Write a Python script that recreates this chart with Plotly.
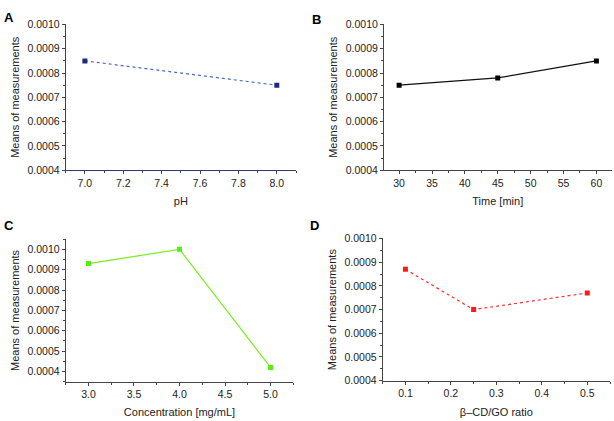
import plotly.graph_objects as go

ph = [7.0, 8.0]
ph_means = [0.00085, 0.00075]
time_min = [30, 45, 60]
time_means = [0.00075, 0.00078, 0.00085]
conc = [3.0, 4.0, 5.0]
conc_means = [0.00093, 0.0010, 0.00042]
ratio = [0.1, 0.25, 0.5]
ratio_means = [0.00087, 0.00070, 0.00077]

W, H = 614, 421
FONT = "Liberation Sans, Arial, sans-serif"

def px_dom_x(a, b):
    return [a / W, b / W]

def px_dom_y(top, bottom):
    return [1 - bottom / H, 1 - top / H]

fig = go.Figure()

panels = [
    dict(x=ph, y=ph_means, line=dict(color="#4a6ad0", width=1.2, dash="dot"),
         marker=dict(color="#1a2a80", size=5, symbol="square"),
         xdom=px_dom_x(65.7, 296), ydom=px_dom_y(19, 169),
         xr=[6.9, 8.1], yr=[0.0004, 0.0010], dtick=0.2, mdtick=0.1, xfmt=".1f",
         xtitle="pH", axc="#33406a"),
    dict(x=time_min, y=time_means, line=dict(color="#111111", width=1.2),
         marker=dict(color="#000000", size=5, symbol="square"),
         xdom=px_dom_x(384, 611.5), ydom=px_dom_y(19, 169),
         xr=[27.7, 62.3], yr=[0.0004, 0.0010], dtick=5, mdtick=2.5, xfmt="d",
         xtitle="Time [min]", axc="#444444"),
    dict(x=conc, y=conc_means, line=dict(color="#77ee22", width=1.2),
         marker=dict(color="#55ee11", size=5, symbol="square"),
         xdom=px_dom_x(65.7, 293.3), ydom=px_dom_y(240, 386.7),
         xr=[2.75, 5.25], yr=[0.00035, 0.00105], dtick=0.5, mdtick=0.25, xfmt=".1f",
         xtitle="Concentration [mg/mL]", axc="#444444"),
    dict(x=ratio, y=ratio_means, line=dict(color="#ff3030", width=1.2, dash="dot"),
         marker=dict(color="#ff1a1a", size=5, symbol="square"),
         xdom=px_dom_x(382.7, 610), ydom=px_dom_y(239.3, 385.7),
         xr=[0.05, 0.55], yr=[0.0004, 0.0010], dtick=0.1, mdtick=0.05, xfmt=".1f",
         xtitle="β–CD/GO ratio", axc="#444444"),
]

layout = {}
for i, p in enumerate(panels, start=1):
    xa = "x" if i == 1 else f"x{i}"
    ya = "y" if i == 1 else f"y{i}"
    fig.add_trace(go.Scatter(x=p["x"], y=p["y"], mode="lines+markers",
                             line=p["line"], marker=p["marker"],
                             xaxis=xa, yaxis=ya, showlegend=False))
    common = dict(showgrid=False, zeroline=False, showline=True, linecolor=p["axc"],
                  linewidth=1, ticks="outside", ticklen=3, tickcolor="#444444",
                  tickfont=dict(family=FONT, size=10.5, color="#222222"),
                  title_font=dict(family=FONT, size=11, color="#222222"))
    layout["xaxis" if i == 1 else f"xaxis{i}"] = dict(
        domain=p["xdom"], range=p["xr"], anchor=ya, dtick=p["dtick"], tick0=0,
        tickformat=p["xfmt"], minor=dict(dtick=p["mdtick"], ticks="outside", ticklen=2,
                                         tickcolor="#444444", tick0=0),
        title=dict(text=p["xtitle"], standoff=9), **common)
    layout["yaxis" if i == 1 else f"yaxis{i}"] = dict(
        domain=p["ydom"], range=p["yr"], anchor=xa, dtick=0.0001, tick0=0,
        tickformat=".4f", minor=dict(dtick=0.00005, ticks="outside", ticklen=2,
                                     tickcolor="#444444", tick0=0),
        title=dict(text="Means of measurements", standoff=5), **common)

labels = [("A", 2, 2), ("B", 310, 4), ("C", 2, 216), ("D", 308, 216)]
annotations = [dict(text=f"<b>{t}</b>", x=x / W, y=1 - y / H, xref="paper", yref="paper",
                    xanchor="left", yanchor="top", showarrow=False,
                    font=dict(family=FONT, size=13, color="#000000"))
               for t, x, y in labels]

fig.update_layout(width=W, height=H, margin=dict(l=0, r=0, t=0, b=0),
                  paper_bgcolor="white", plot_bgcolor="white",
                  annotations=annotations, **layout)

fig.write_html("out.html")
